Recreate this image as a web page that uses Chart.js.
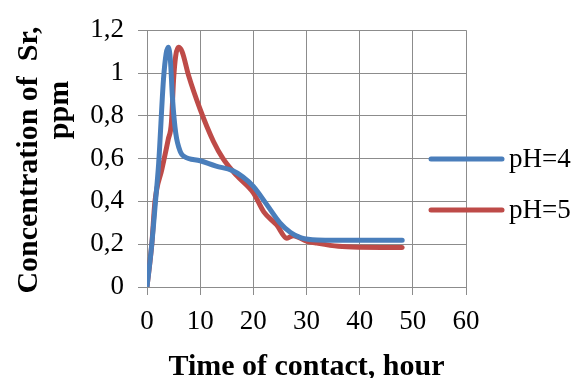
<!DOCTYPE html>
<html>
<head>
<meta charset="utf-8">
<script src="https://cdn.jsdelivr.net/npm/chart.js@4"></script>
<style>
  html, body { margin: 0; padding: 0; background: #fff; }
  #wrap { width: 574px; height: 378px; position: relative; }
</style>
</head>
<body>
<div id="wrap"><canvas id="srChart"></canvas></div>
<script>
// values
const seriesLabels = ['pH=4', 'pH=5'];
const seriesColors = ['#4a7ebb', '#be4b48'];

const ph4Hours = [0, 0.9, 1.6, 2.2, 3.1, 3.6, 4.0, 4.4, 4.8, 5.4, 6.3, 7.0, 10, 13, 16, 18, 20, 22.5, 25, 27, 29, 32, 40, 48];
const ph4Conc  = [0, 0.2, 0.4, 0.58, 0.97, 1.09, 1.12, 1.06, 0.88, 0.72, 0.63, 0.61, 0.59, 0.565, 0.545, 0.515, 0.47, 0.386, 0.3, 0.255, 0.23, 0.22, 0.218, 0.218];

const ph5Hours = [0, 0.9, 1.5, 2.8, 4.0, 4.6, 5.0, 5.4, 5.9, 6.6, 7.8, 10, 12.5, 14.3, 16.9, 20, 22, 24.4, 26.3, 27.5, 30, 32, 36, 40, 48];
const ph5Conc  = [0, 0.2, 0.4, 0.55, 0.69, 0.77, 0.97, 1.08, 1.12, 1.1, 0.99, 0.83, 0.68, 0.6, 0.52, 0.44, 0.35, 0.29, 0.228, 0.24, 0.215, 0.205, 0.19, 0.186, 0.185];

const xTicks = [0, 10, 20, 30, 40, 50, 60];
const yTickLabels = ['0', '0,2', '0,4', '0,6', '0,8', '1', '1,2'];

const xTitle = 'Time of contact, hour';
const yTitleLines = ['Concentration of  Sr,', 'ppm'];

const gridGrey = '#8c8c8c';
const serif = "'Liberation Serif', 'Times New Roman', serif";

function toPoints(xs, ys) {
  return xs.map((x, i) => ({ x: x, y: ys[i] }));
}

// y title is drawn by hand: the second line sits off-centre in the original
const yTitlePlugin = {
  id: 'yTitle',
  afterDraw(chart) {
    const ctx = chart.ctx;
    const spots = [[29, 160], [60, 110]];
    yTitleLines.forEach((line, i) => {
      ctx.save();
      ctx.fillStyle = '#000';
      ctx.font = 'bold 30px ' + serif;
      ctx.textAlign = 'center';
      ctx.textBaseline = 'middle';
      ctx.translate(spots[i][0], spots[i][1]);
      ctx.rotate(-Math.PI / 2);
      ctx.fillText(line, 0, 0);
      ctx.restore();
    });
  }
};

// legend sits over the right edge of the plot
const sideLegendPlugin = {
  id: 'sideLegend',
  afterDraw(chart) {
    const ctx = chart.ctx;
    const rows = [159, 210];
    chart.data.datasets.forEach((ds, i) => {
      ctx.save();
      ctx.strokeStyle = ds.borderColor;
      ctx.lineWidth = 5;
      ctx.lineCap = 'round';
      ctx.beginPath();
      ctx.moveTo(431, rows[i]);
      ctx.lineTo(502, rows[i]);
      ctx.stroke();
      ctx.fillStyle = '#000';
      ctx.font = '27px ' + serif;
      ctx.textAlign = 'left';
      ctx.textBaseline = 'middle';
      ctx.fillText(ds.label, 509, rows[i] + 1);
      ctx.restore();
    });
  }
};

const ctx = document.getElementById('srChart');
new Chart(ctx, {
  type: 'scatter',
  data: {
    datasets: [
      {
        label: seriesLabels[0],
        data: toPoints(ph4Hours, ph4Conc),
        showLine: true,
        borderColor: seriesColors[0],
        backgroundColor: seriesColors[0],
        borderWidth: 5,
        pointRadius: 0,
        cubicInterpolationMode: 'monotone',
        borderCapStyle: 'round',
        borderJoinStyle: 'round'
      },
      {
        label: seriesLabels[1],
        data: toPoints(ph5Hours, ph5Conc),
        showLine: true,
        borderColor: seriesColors[1],
        backgroundColor: seriesColors[1],
        borderWidth: 5,
        pointRadius: 0,
        cubicInterpolationMode: 'monotone',
        borderCapStyle: 'round',
        borderJoinStyle: 'round'
      }
    ]
  },
  options: {
    responsive: true,
    maintainAspectRatio: false,
    animation: false,
    layout: { padding: { left: 0, right: 108, top: 26, bottom: 0 } },
    plugins: {
      legend: { display: false },
      tooltip: { enabled: false }
    },
    scales: {
      x: {
        type: 'linear',
        min: 0,
        max: 60,
        afterBuildTicks: (scale) => { scale.ticks = xTicks.map(v => ({ value: v })); },
        afterFit: (scale) => { scale.height = 91; },
        grid: { color: gridGrey, lineWidth: 1, tickLength: 8, drawTicks: true },
        border: { color: gridGrey, width: 1 },
        ticks: { color: '#000', font: { family: serif, size: 27 }, padding: 11, maxRotation: 0 },
        title: { display: true, text: xTitle, color: '#000', font: { family: serif, size: 30, weight: 'bold', lineHeight: 0.75 }, padding: { top: 0, bottom: 0 } }
      },
      y: {
        type: 'linear',
        min: 0,
        max: 1.2,
        ticks: {
          stepSize: 0.2,
          color: '#000',
          font: { family: serif, size: 27 },
          padding: 14,
          callback: (v, i) => yTickLabels[i]
        },
        afterFit: (scale) => { scale.width = 147; },
        grid: { color: gridGrey, lineWidth: 1, tickLength: 9 },
        border: { color: gridGrey, width: 1 }
      }
    }
  },
  plugins: [yTitlePlugin, sideLegendPlugin]
});
</script>
</body>
</html>
